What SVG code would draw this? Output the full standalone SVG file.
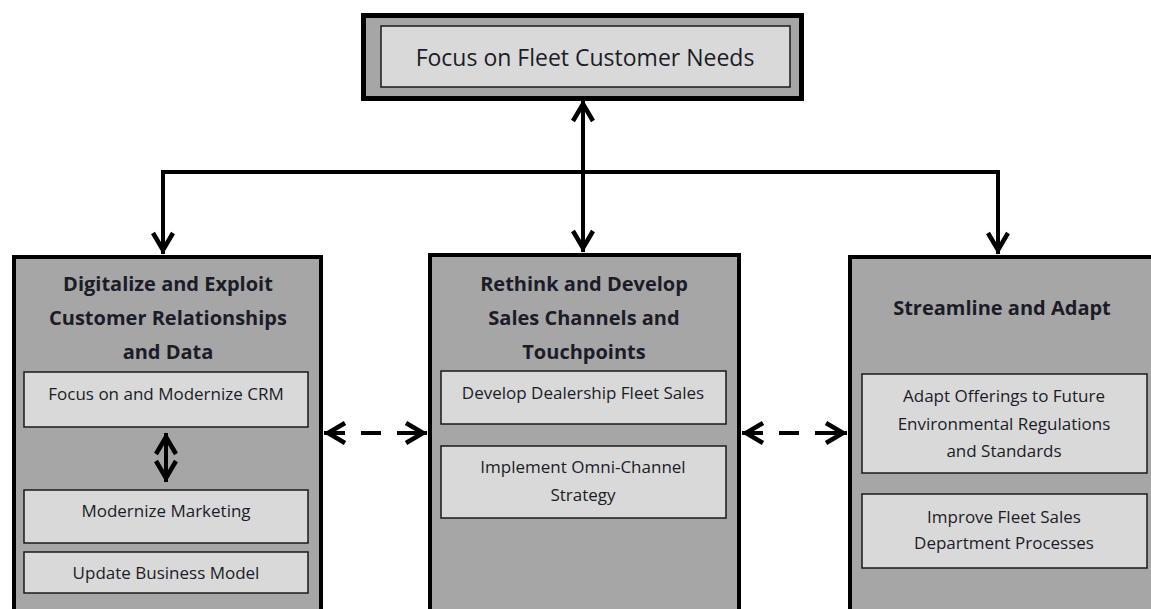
<svg xmlns="http://www.w3.org/2000/svg" width="1151" height="609" viewBox="0 0 1151 609">
<defs>
<style>
.outer{fill:#a6a6a6;stroke:#000;stroke-width:4}
.inner{fill:#d9d9d9;stroke:#1a1a1a;stroke-width:1.5}
.t{font-family:"Open Sans","Liberation Sans",sans-serif;fill:#1c1c28;text-anchor:middle}
.top{font-size:23px}
.h{font-size:20px;font-weight:bold}
.s{font-size:17px}
.conn{fill:none;stroke:#000;stroke-width:4}
.dash{stroke-dasharray:21 16 20 16 40}
</style>
<marker id="chev" viewBox="-24 -12 26 24" refX="0" refY="0" markerWidth="26" markerHeight="24" markerUnits="userSpaceOnUse" orient="auto-start-reverse">
<path d="M-21,-10 L-4,0 L-21,10" fill="none" stroke="#000" stroke-width="4.5"/>
</marker>
</defs>
<rect width="1151" height="609" fill="#fff"/>
<g id="connectors">
<path class="conn" d="M583,100 V252" marker-start="url(#chev)" marker-end="url(#chev)"/>
<path class="conn" d="M163,254 V172 H998 V254" marker-start="url(#chev)" marker-end="url(#chev)"/>
<path class="conn dash" d="M324,433 H427" marker-start="url(#chev)" marker-end="url(#chev)"/>
<path class="conn dash" d="M742,433 H847" marker-start="url(#chev)" marker-end="url(#chev)"/>
</g>
<g id="top">
<rect x="363.5" y="15.5" width="438" height="83" fill="#a6a6a6" stroke="#000" stroke-width="5"/>
<rect class="inner" x="381" y="26" width="409" height="61"/>
<text class="t top" x="585" y="66">Focus on Fleet Customer Needs</text>
</g>
<g id="left">
<rect class="outer" x="14" y="257" width="307" height="370"/>
<text class="t h" x="168" y="291">Digitalize and Exploit</text>
<text class="t h" x="168" y="325">Customer Relationships</text>
<text class="t h" x="168" y="359">and Data</text>
<g id="crm">
<rect class="inner" x="24" y="372" width="284" height="55"/>
<text class="t s" x="166" y="400">Focus on and Modernize CRM</text>
</g>
<path class="conn" d="M166,433 V482" marker-start="url(#chev)" marker-end="url(#chev)"/>
<g id="marketing">
<rect class="inner" x="24" y="490" width="284" height="53"/>
<text class="t s" x="166" y="517">Modernize Marketing</text>
</g>
<g id="business">
<rect class="inner" x="24" y="552" width="284" height="41"/>
<text class="t s" x="166" y="579">Update Business Model</text>
</g>
</g>
<g id="middle">
<rect class="outer" x="430" y="255" width="309" height="370"/>
<text class="t h" x="584" y="291">Rethink and Develop</text>
<text class="t h" x="584" y="325">Sales Channels and</text>
<text class="t h" x="584" y="359">Touchpoints</text>
<g id="dealership">
<rect class="inner" x="441" y="371" width="285" height="53"/>
<text class="t s" x="583" y="399">Develop Dealership Fleet Sales</text>
</g>
<g id="omni">
<rect class="inner" x="441" y="446" width="285" height="72"/>
<text class="t s" x="583" y="473">Implement Omni-Channel</text>
<text class="t s" x="583" y="501">Strategy</text>
</g>
</g>
<g id="right">
<rect class="outer" x="850" y="257" width="320" height="370"/>
<text class="t h" x="1002" y="315">Streamline and Adapt</text>
<g id="adapt">
<rect class="inner" x="862" y="374" width="285" height="99"/>
<text class="t s" x="1004" y="402">Adapt Offerings to Future</text>
<text class="t s" x="1004" y="430">Environmental Regulations</text>
<text class="t s" x="1004" y="457">and Standards</text>
</g>
<g id="improve">
<rect class="inner" x="862" y="494" width="285" height="74"/>
<text class="t s" x="1004" y="523">Improve Fleet Sales</text>
<text class="t s" x="1004" y="549">Department Processes</text>
</g>
</g>
</svg>
